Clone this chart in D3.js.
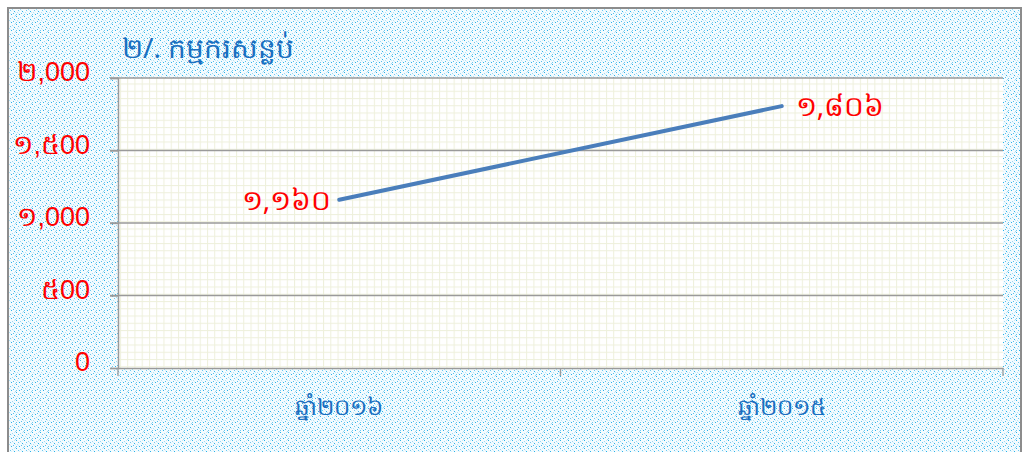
<!DOCTYPE html>
<html>
<head>
<meta charset="utf-8">
<script src="https://cdn.jsdelivr.net/npm/d3@7"></script>
<style>
  body { margin: 0; background: #fff; }
  svg { display: block; font-family: "Noto Sans", "DejaVu Sans", sans-serif; }
</style>
</head>
<body>
<div id="chart"></div>
<script>
// data
const categories = ["ឆ្នាំ២០១៦", "ឆ្នាំ២០១៥"];
const values = [1160, 1806];
const valueLabels = ["១,១៦០", "១,៨០៦"];
const yTicks = [0, 500, 1000, 1500, 2000];
const yTickLabels = ["0", "៥00", "១,000", "១,៥00", "២,000"];
const title = "២/. កម្មករសន្លប់";

function renderChart(){
    const W = 1028, H = 452;
    const margin = { top: 78, right: 25, bottom: 84, left: 118 };
    const width = W - margin.left - margin.right;
    const height = H - margin.top - margin.bottom;

    const svg = d3.select("#chart").append("svg")
        .attr("width", W).attr("height", H);

    const defs = svg.append("defs");

    // blue speckle fill of the chart area
    const pat = defs.append("pattern")
        .attr("id", "speckle").attr("patternUnits", "userSpaceOnUse")
        .attr("width", 8).attr("height", 8);
    pat.append("rect").attr("width", 8).attr("height", 8).attr("fill", "#f4fbfe");
    const dots = [[0,0,"#29b3ea"],[4,1,"#9bd9f4"],[2,2,"#6cc8f0"],[6,3,"#29b3ea"],
                  [1,4,"#b4e2f6"],[5,5,"#55bfee"],[3,6,"#29b3ea"],[7,7,"#9bd9f4"],
                  [6,0,"#c9ebf9"],[0,6,"#6cc8f0"],[2,5,"#d6f0fb"],[5,2,"#d6f0fb"],
                  [3,3,"#e0f4fc"],[7,4,"#c9ebf9"]];
    dots.forEach(d => pat.append("rect")
        .attr("x", d[0]).attr("y", d[1]).attr("width", 1).attr("height", 1).attr("fill", d[2]));

    // fine grid of the plot area
    const grid = defs.append("pattern")
        .attr("id", "minor").attr("patternUnits", "userSpaceOnUse")
        .attr("x", margin.left).attr("y", margin.top)
        .attr("width", width / 122).attr("height", height / 40);
    grid.append("rect").attr("width", 10).attr("height", 10).attr("fill", "#fff");
    grid.append("rect").attr("width", 1).attr("height", 10).attr("fill", "#eef0dc");
    grid.append("rect").attr("width", 10).attr("height", 1).attr("fill", "#eef0dc");

    svg.append("rect")
        .attr("x", 8).attr("y", 8).attr("width", 1013).attr("height", H)
        .attr("fill", "url(#speckle)")
        .attr("stroke", "#8c8c8c").attr("stroke-width", 2);

    const g = svg.append("g")
        .attr("transform", `translate(${margin.left}, ${margin.top})`);

    const x = d3.scaleBand().domain(categories).range([0, width]);
    const y = d3.scaleLinear().domain([0, 2000]).range([height, 0]);

    g.append("rect")
        .attr("width", width).attr("height", height)
        .attr("fill", "url(#minor)");

    // major gridlines
    g.selectAll(".major").data(yTicks.slice(1)).enter().append("line")
        .attr("x1", -8).attr("x2", width)
        .attr("y1", d => y(d)).attr("y2", d => y(d))
        .attr("stroke", "#9a9a9a").attr("stroke-width", 1.3);

    // y axis
    const yAxis = g.append("g")
        .call(d3.axisLeft(y).tickValues(yTicks).tickSize(8)
            .tickFormat((d, i) => yTickLabels[i]));
    yAxis.select(".domain").attr("stroke", "#9a9a9a").attr("stroke-width", 1.5);
    yAxis.selectAll(".tick line").attr("stroke", "#9a9a9a").attr("stroke-width", 1.3);
    yAxis.selectAll("text")
        .attr("x", -28).attr("dy", "0.1em")
        .attr("fill", "#ff0000").attr("font-size", 27);

    // x axis
    const xAxis = g.append("g")
        .attr("transform", `translate(0, ${height})`)
        .call(d3.axisBottom(x).tickSize(0).tickPadding(31));
    xAxis.select(".domain").attr("stroke", "#9a9a9a").attr("stroke-width", 1.5);
    xAxis.selectAll("text").attr("fill", "#1a6fc0").attr("font-size", 23);
    xAxis.selectAll(".edge").data([0, width / 2, width]).enter().append("line")
        .attr("x1", d => d).attr("x2", d => d)
        .attr("y1", 0).attr("y2", 8)
        .attr("stroke", "#9a9a9a").attr("stroke-width", 1.3);

    // the line
    const line = d3.line()
        .x((d, i) => x(categories[i]) + x.bandwidth() / 2)
        .y(d => y(d));
    g.append("path").datum(values)
        .attr("d", line)
        .attr("fill", "none")
        .attr("stroke", "#4a7ebb").attr("stroke-width", 4)
        .attr("stroke-linecap", "round");

    // value labels
    g.selectAll(".vlabel").data(values).enter().append("text")
        .attr("x", (d, i) => x(categories[i]) + x.bandwidth() / 2 + (i === 0 ? -8 : 14))
        .attr("y", d => y(d))
        .attr("dy", "0.35em")
        .attr("text-anchor", (d, i) => i === 0 ? "end" : "start")
        .attr("fill", "#ff0000").attr("font-size", 28)
        .text((d, i) => valueLabels[i]);

    svg.append("text")
        .attr("x", 122).attr("y", 58)
        .attr("fill", "#1a6fc0").attr("font-size", 28)
        .text(title);
}
renderChart();
</script>
</body>
</html>
